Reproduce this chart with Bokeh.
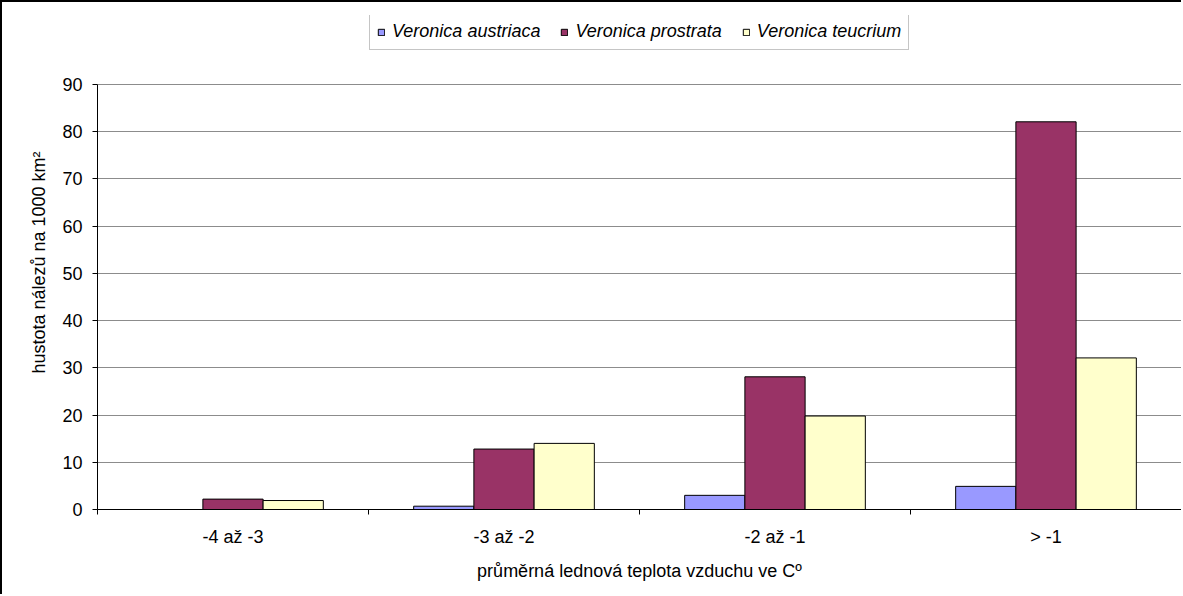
from bokeh.plotting import figure
from bokeh.models import (Range1d, LinearAxis, FixedTicker,
                          ColumnDataSource, Legend, LegendItem)
from bokeh.transform import dodge
from bokeh.embed import file_html
from bokeh.resources import INLINE

categories = ["-4 až -3", "-3 až -2", "-2 až -1", "> -1"]
series_names = ["Veronica austriaca", "Veronica prostrata", "Veronica teucrium"]
austriaca = [0, 0.7, 3.0, 4.9]
prostrata = [2.2, 12.8, 28.1, 82.1]
teucrium = [1.9, 14.0, 19.8, 32.1]
colors = ["#9999FF", "#993366", "#FFFFCC"]
y_ticks = [0, 10, 20, 30, 40, 50, 60, 70, 80, 90]

FONT = "Liberation Sans"
FS = "18px"
GRID = "#8c8c8c"

# category index -> centre of category slot on a numeric axis
centers = [i + 0.5 for i in range(len(categories))]
boundaries = list(range(len(categories) + 1))
y_max = y_ticks[-1]

source = ColumnDataSource(dict(xc=centers, austriaca=austriaca,
                               prostrata=prostrata, teucrium=teucrium))

# the frame extends above the value axis to leave room for the legend
p = figure(x_range=Range1d(0, len(categories)), y_range=Range1d(0, y_max * 494 / 425),
           width=1181, height=594, output_backend="svg", toolbar_location=None,
           x_axis_location=None,
           min_border_left=95, min_border_right=2,
           min_border_top=13, min_border_bottom=87)
p.styles = {"border-left": "2px solid black", "border-top": "2px solid black"}

bw = 1 / 4.5
keys = ["austriaca", "prostrata", "teucrium"]
renderers = []
for i, (k, c) in enumerate(zip(keys, colors)):
    r = p.vbar(x=dodge("xc", (i - 1) * bw), top=k, width=bw,
               bottom=0, source=source, fill_color=c, line_color="black", line_width=1)
    renderers.append(r)

# right edge of the plot area
p.segment(x0=[len(categories)], y0=[0], x1=[len(categories)], y1=[y_max],
          line_color=GRID, line_width=1)

# y axis
p.yaxis.ticker = FixedTicker(ticks=y_ticks)
p.yaxis.bounds = (0, y_max)
p.yaxis.axis_label = "hustota nálezů na 1000 km²"
p.yaxis.axis_label_text_font = FONT
p.yaxis.axis_label_text_font_style = "normal"
p.yaxis.axis_label_text_font_size = FS
p.yaxis.axis_label_text_color = "black"
p.yaxis.axis_label_standoff = 10
p.yaxis.major_label_text_font = FONT
p.yaxis.major_label_text_font_size = FS
p.yaxis.major_label_text_color = "black"
p.yaxis.major_label_standoff = 10
p.yaxis.major_tick_in = 0
p.yaxis.major_tick_out = 5
p.yaxis.minor_tick_line_color = None
p.yaxis.axis_line_color = "black"
p.yaxis.major_tick_line_color = "black"

# x axis: labels at category centres, ticks at category boundaries
x_axis = LinearAxis(ticker=FixedTicker(ticks=centers, minor_ticks=boundaries),
                    major_label_overrides={c: lab for c, lab in zip(centers, categories)},
                    axis_line_color="black", major_tick_line_color=None,
                    major_tick_in=0, major_tick_out=5,
                    minor_tick_line_color="black", minor_tick_in=0, minor_tick_out=5,
                    major_label_text_font=FONT, major_label_text_font_size=FS,
                    major_label_text_color="black",
                    major_label_standoff=12,
                    axis_label="průměrná lednová teplota vzduchu ve Cº",
                    axis_label_text_font=FONT, axis_label_text_font_size=FS,
                    axis_label_text_color="black",
                    axis_label_text_font_style="normal", axis_label_standoff=11)
p.add_layout(x_axis, "below")

p.xgrid.grid_line_color = None
p.ygrid.grid_line_color = GRID
p.ygrid.grid_line_width = 1
p.outline_line_color = None
p.background_fill_color = "white"
p.border_fill_color = "white"

legend = Legend(items=[LegendItem(label=n, renderers=[r]) for n, r in zip(series_names, renderers)],
                orientation="horizontal", location=(272, 459),
                label_text_font=FONT, label_text_font_size=FS,
                label_text_font_style="italic", label_text_color="black", label_height=21,
                glyph_width=8, glyph_height=8, label_standoff=7, spacing=20,
                padding=7, margin=0, border_line_color=GRID, border_line_width=1,
                background_fill_color="white", background_fill_alpha=1)
p.add_layout(legend, "center")

open("out.html", "w").write(file_html(p, INLINE))
